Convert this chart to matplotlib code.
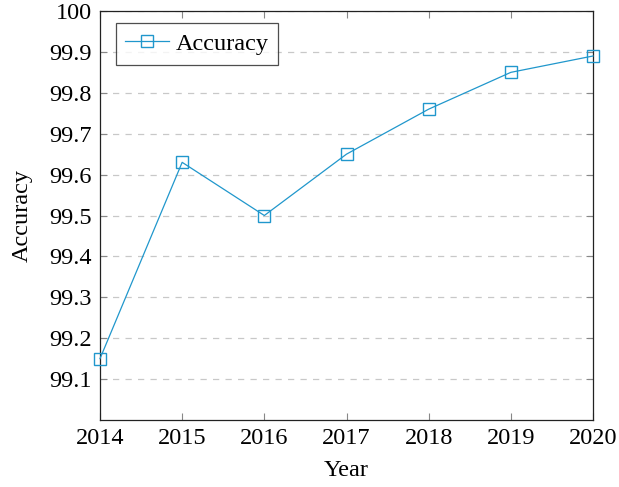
import matplotlib
matplotlib.use("Agg")
import matplotlib.pyplot as plt

years = [2014, 2015, 2016, 2017, 2018, 2019, 2020]
accuracy = [99.15, 99.63, 99.50, 99.65, 99.76, 99.85, 99.89]
yticks = [99.1, 99.2, 99.3, 99.4, 99.5, 99.6, 99.7, 99.8, 99.9, 100.0]
ytick_labels = ["99.1", "99.2", "99.3", "99.4", "99.5", "99.6", "99.7", "99.8", "99.9", "100"]

plt.rcParams['font.family'] = ['Liberation Serif', 'DejaVu Serif']
plt.rcParams['mathtext.fontset'] = 'stix'

W, H = 619, 487
fig = plt.figure(figsize=(W / 100, H / 100), dpi=100)
ax = fig.add_axes([100 / W, 1 - 420 / H, (593 - 100) / W, (420 - 11) / H])

color = '#2097cc'
ax.plot(years, accuracy, color=color, lw=0.9, marker='s', markersize=8,
        markerfacecolor='none', markeredgecolor=color, markeredgewidth=1.0,
        label='Accuracy', clip_on=False, zorder=3)

ax.set_xlim(2014, 2020)
ax.set_ylim(99.0, 100.0)
ax.set_xticks(years)
ax.set_xticklabels([str(y) for y in years])
ax.set_yticks(yticks)
ax.set_yticklabels(ytick_labels)

fs = 17.5
ax.grid(axis='y', color='#c8c8c8', linestyle=(0, (5, 5)), lw=0.9)
ax.tick_params(direction='in', length=5, width=0.8, color='#888888',
               top=True, right=True, labelsize=fs, pad=6)
for s in ax.spines.values():
    s.set_color('#222222')
    s.set_linewidth(0.9)

ax.set_xlabel('Year', fontsize=fs, labelpad=8)
ax.set_ylabel('Accuracy', fontsize=fs, labelpad=12)

leg = ax.legend(loc='upper left', bbox_to_anchor=(0.032, 0.97), fontsize=fs,
                frameon=True, fancybox=False, edgecolor='#222222',
                handlelength=1.8, handletextpad=0.25, borderpad=0.4,
                borderaxespad=0)
leg.get_frame().set_linewidth(0.9)

fig.savefig('out.png', dpi=100)
